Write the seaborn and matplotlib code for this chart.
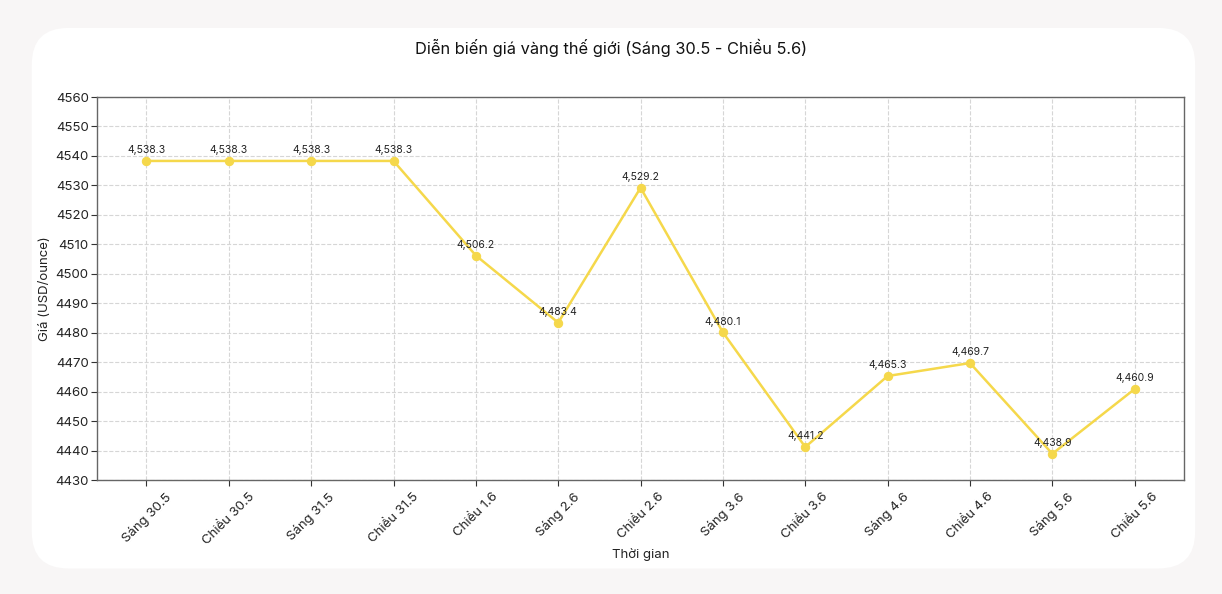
import matplotlib
matplotlib.use("Agg")
import matplotlib.pyplot as plt
import seaborn as sns
import pandas as pd
from matplotlib.patches import FancyBboxPatch

sessions = ["Sáng 30.5", "Chiều 30.5", "Sáng 31.5", "Chiều 31.5", "Chiều 1.6",
            "Sáng 2.6", "Chiều 2.6", "Sáng 3.6", "Chiều 3.6", "Sáng 4.6",
            "Chiều 4.6", "Sáng 5.6", "Chiều 5.6"]
prices = [4538.3, 4538.3, 4538.3, 4538.3, 4506.2,
          4483.4, 4529.2, 4480.1, 4441.2, 4465.3,
          4469.7, 4438.9, 4460.9]
y_ticks = list(range(4430, 4561, 10))

df = pd.DataFrame({"session": sessions, "price": prices})
df["pos"] = range(len(df))

sns.set_style("whitegrid")
plt.rcParams["font.family"] = ["Inter", "DejaVu Sans"]

fig = plt.figure(figsize=(12.22, 5.94), dpi=100)
fig.patch.set_facecolor("#f8f6f6")

# white rounded card behind the chart
card = FancyBboxPatch((0.026, 0.043), 0.952, 0.91,
                      boxstyle="round,pad=0,rounding_size=0.03",
                      transform=fig.transFigure, facecolor="white",
                      edgecolor="none", zorder=-5, mutation_aspect=2.06)
fig.patches.append(card)

ax = fig.add_axes([0.0794, 0.1919, 0.8896, 0.6448])
ax.set_zorder(2)
ax.set_facecolor("white")

line_color = "#F5D84B"
sns.lineplot(data=df, x="pos", y="price", ax=ax, color=line_color,
             linewidth=1.8, marker="o", markersize=6,
             markeredgecolor=line_color, zorder=3)

for x, y in zip(df["pos"], df["price"]):
    ax.annotate(f"{y:,.1f}", (x, y), xytext=(0, 4), textcoords="offset points",
                ha="center", va="bottom", fontsize=7.5, color="#222222")

ax.set_ylim(4430, 4560)
ax.set_yticks(y_ticks)
ax.set_xticks(df["pos"])
ax.set_xticklabels(sessions, rotation=45, fontsize=9.5, color="#222222")
ax.tick_params(axis="y", labelsize=9.5, colors="#222222", pad=2)
ax.tick_params(axis="both", length=4, color="#333333", left=True, bottom=True)

ax.grid(True, linestyle="--", color="#d6d6d6", linewidth=0.8)
for s in ax.spines.values():
    s.set_color("#666666")
    s.set_linewidth(1.0)

ax.set_xlabel("Thời gian", fontsize=9.5, color="#222222", labelpad=1)
ax.set_ylabel("Giá (USD/ounce)", fontsize=9.5, color="#222222", labelpad=3)
fig.text(0.5, 0.92, "Diễn biến giá vàng thế giới (Sáng 30.5 - Chiều 5.6)",
         ha="center", va="center", fontsize=11.8, color="#111111")

fig.savefig("out.png", dpi=100, facecolor=fig.get_facecolor())
